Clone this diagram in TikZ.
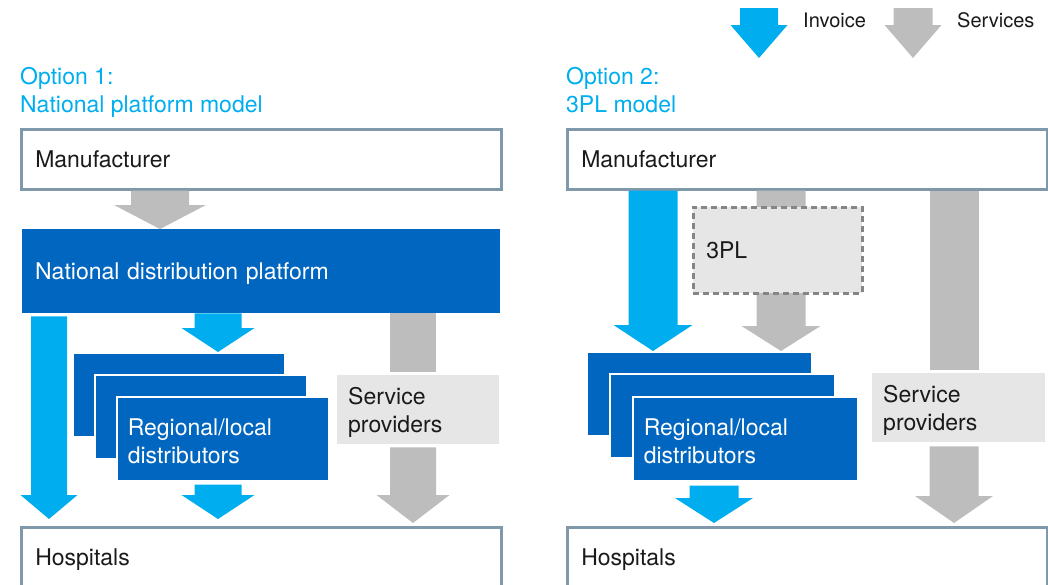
\documentclass[tikz,border=0pt]{standalone}
\usepackage{fontspec}
\setmainfont{TeX Gyre Heros}
\usetikzlibrary{calc}
\definecolor{InvoiceCyan}{HTML}{00AEEF}
\definecolor{PlatformBlue}{HTML}{0066BF}
\definecolor{ServiceGray}{HTML}{BDBDBD}
\definecolor{PaleGray}{HTML}{E6E6E6}
\definecolor{FrameGray}{HTML}{8099AA}
\definecolor{DashGray}{HTML}{858585}
\definecolor{InkGray}{HTML}{1A1A1A}
% block arrows: shaft width, head width and head length are set per arrow
\tikzset{
  flow shaft/.store in=\flowshaft,
  flow head/.store in=\flowhead,
  flow tip/.store in=\flowtip,
  flow shaft=47pt, flow head=75pt, flow tip=25pt,
  flow/.style={to path={let \p1=(\tikztostart), \p2=(\tikztotarget) in
      (\x1-\flowshaft/2,\y1) -- (\x1+\flowshaft/2,\y1) -- (\x1+\flowshaft/2,\y2+\flowtip)
      -- (\x1+\flowhead/2,\y2+\flowtip) -- (\x1,\y2) -- (\x1-\flowhead/2,\y2+\flowtip)
      -- (\x1-\flowshaft/2,\y2+\flowtip) -- cycle}},
  invoice/.style={fill=InvoiceCyan, flow},
  services/.style={fill=ServiceGray, flow},
  plainbox/.style={draw=FrameGray, line width=2.5pt, fill=white, anchor=north west,
      minimum height=60pt, text width=452pt, inner xsep=14pt, align=left, text=InkGray,
      text height=16.5pt, text depth=0pt},
  platform/.style={fill=PlatformBlue, anchor=north west, minimum height=84pt,
      text width=452pt, inner xsep=13pt, align=left, text=white,
      text height=16.5pt, text depth=0pt},
  regional/.style={fill=PlatformBlue, draw=white, line width=1.5pt, anchor=north west,
      minimum height=84pt, text width=190pt, inner xsep=11pt, align=left, text=white,
      text height=21pt},
  provider/.style={fill=PaleGray, anchor=north west, minimum height=69pt,
      text width=140pt, inner xsep=11pt, align=left, text=InkGray,
      text height=23pt},
  thirdparty/.style={fill=PaleGray, draw=DashGray, line width=2.5pt, dash pattern=on 6pt off 4pt,
      anchor=north west, minimum height=86pt, text width=143pt, inner xsep=13pt,
      align=left, text=InkGray, text height=16.5pt, text depth=0pt},
  optiontitle/.style={anchor=north west, inner sep=0pt, align=left, text=InvoiceCyan},
  legendtext/.style={anchor=base west, inner sep=0pt, text=InkGray,
      font=\fontsize{20}{24}\selectfont},
}

\begin{document}
\begin{tikzpicture}[x=1pt, y=-1pt, font=\fontsize{23}{28}\selectfont]
 \useasboundingbox (0,0) rectangle (1048,584);

 % legend
 \coordinate (inv-top) at (759,8);
 \coordinate (inv-tip) at (759,58);
 \coordinate (srv-top) at (913,8);
 \coordinate (srv-tip) at (913,58);
 \fill[invoice, flow shaft=38pt, flow head=57pt, flow tip=33pt] (inv-top) to (inv-tip);
 \fill[services, flow shaft=39pt, flow head=57pt, flow tip=33pt] (srv-top) to (srv-tip);
 \node[legendtext] (invoice) at (803,27) {Invoice};
 \node[legendtext] (services) at (957,27) {Services};

 % option 1
 \node[optiontitle] (opt1) at (20,67) {Option 1:\\National platform model};
 \node[plainbox] (manu1) at (20,128) {Manufacturer};
 \node[platform] (plat1) at (22,229) {National distribution platform};
 \node[regional] (reg1a) at (72,352) {};
 \node[regional] (reg1b) at (94,374) {};
 \node[regional] (reg1c) at (116,396) {Regional/local\\distributors};
 \node[provider] (prov1) at (337,375) {Service\\providers};
 \node[plainbox] (hosp1) at (20,526) {Hospitals};

 \coordinate (col1a) at (49,0);
 \coordinate (col1b) at (218,0);
 \coordinate (col1c) at (160,0);
 \coordinate (col1d) at (413,0);
 \fill[services, flow shaft=58pt, flow head=92pt, flow tip=24pt] (manu1.south -| col1c) to (plat1.north -| col1c);
 \fill[invoice, flow shaft=36pt, flow head=57pt, flow tip=24pt] ($(plat1.south -| col1a)+(0,3)$) to ($(hosp1.north -| col1a)+(0,-7)$);
 \fill[invoice, flow shaft=47pt, flow head=73pt, flow tip=24pt] (plat1.south -| col1b) to (reg1a.north -| col1b);
 \fill[invoice, flow shaft=47pt, flow head=73pt, flow tip=24pt] ($(reg1c.south -| col1b)+(0,3)$) to ($(hosp1.north -| col1b)+(0,-7)$);
 \draw[ServiceGray, line width=46pt] (plat1.south -| col1d) -- ($(prov1.north -| col1d)+(0,-3)$);
 \fill[services, flow shaft=46pt, flow head=73pt, flow tip=28pt] ($(prov1.south -| col1d)+(0,3)$) to ($(hosp1.north -| col1d)+(0,-3)$);

 % option 2
 \node[optiontitle] (opt2) at (566,67) {Option 2:\\3PL model};
 \node[plainbox] (manu2) at (566,128) {Manufacturer};
 \node[regional, text width=203pt] (reg2a) at (586,351) {};
 \node[regional, text width=203pt] (reg2b) at (609,373) {};
 \node[regional, text width=203pt] (reg2c) at (632,396) {Regional/local\\distributors};
 \node[provider, text width=151pt] (prov2) at (872,373) {Service\\providers};
 \node[plainbox] (hosp2) at (566,526) {Hospitals};

 \coordinate (col2a) at (653,0);
 \coordinate (col2b) at (781,0);
 \coordinate (col2c) at (954,0);
 \coordinate (col2d) at (714,0);
 \fill[invoice, flow shaft=49pt, flow head=79pt, flow tip=26pt] (manu2.south -| col2a) to (reg2a.north -| col2a);
 \fill[services, flow shaft=49pt, flow head=79pt, flow tip=25pt] (manu2.south -| col2b) to (reg2a.north -| col2b);
 \node[thirdparty] (tpl) at (692,206) {3PL};
 \draw[ServiceGray, line width=49pt] (manu2.south -| col2c) -- ($(prov2.north -| col2c)+(0,-3)$);
 \fill[services, flow shaft=49pt, flow head=78pt, flow tip=27pt] ($(prov2.south -| col2c)+(0,4)$) to ($(hosp2.north -| col2c)+(0,-3)$);
 \fill[invoice, flow shaft=49pt, flow head=78pt, flow tip=25pt] ($(reg2c.south -| col2d)+(0,4)$) to ($(hosp2.north -| col2d)+(0,-3)$);
\end{tikzpicture}
\end{document}
